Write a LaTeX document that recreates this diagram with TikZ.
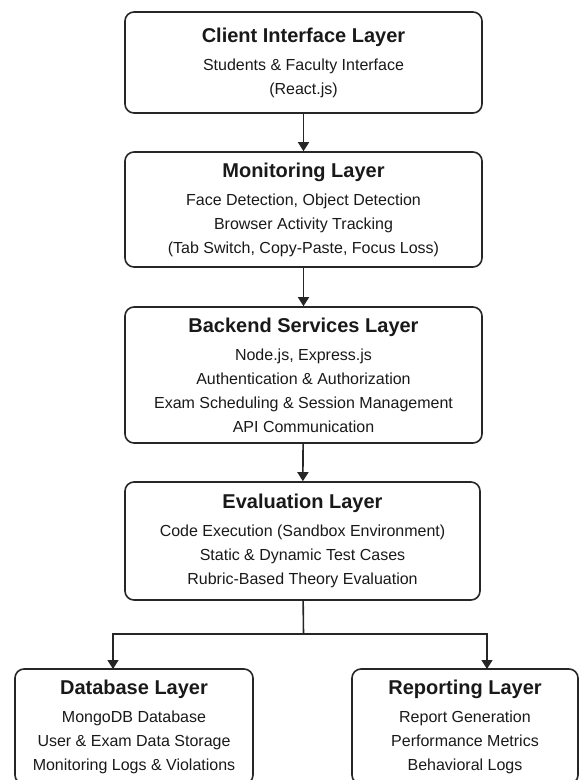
\documentclass[tikz,border=0pt]{standalone}
\usepackage{fontspec}
\setmainfont{Liberation Sans}
\usetikzlibrary{arrows.meta}

\tikzset{
  layer/.style={draw=black!85, line width=1.6pt, rounded corners=9pt,
    align=center, inner sep=0pt, text=black!90,
    font=\fontsize{16}{24}\selectfont},
  flow/.style={draw=black!85, line width=1.6pt,
    -{Triangle[length=9pt,width=11pt]}},
  link/.style={draw=black!85, line width=1.6pt}
}
\newcommand{\layertitle}[1]{{\fontsize{20}{24}\selectfont\bfseries #1}\\[4pt]}

\begin{document}
\begin{tikzpicture}[x=1pt,y=-1pt]
\useasboundingbox (0,0) rectangle (580,780);

% layers, top to bottom
\node[layer, minimum width=357pt, minimum height=101pt] (client) at (303.5,62.5)
  {\layertitle{Client Interface Layer}Students \& Faculty Interface\\(React.js)};
\node[layer, minimum width=357pt, minimum height=115pt] (monitor) at (303.5,209.5)
  {\layertitle{Monitoring Layer}Face Detection, Object Detection\\Browser Activity Tracking\\(Tab Switch, Copy-Paste, Focus Loss)};
\node[layer, minimum width=357pt, minimum height=136pt] (backend) at (303.5,375)
  {\layertitle{Backend Services Layer}Node.js, Express.js\\Authentication \& Authorization\\Exam Scheduling \& Session Management\\API Communication};
\node[layer, minimum width=355pt, minimum height=118pt] (eval) at (302.5,541)
  {\layertitle{Evaluation Layer}Code Execution (Sandbox Environment)\\Static \& Dynamic Test Cases\\Rubric-Based Theory Evaluation};

% the two outputs
\node[layer, minimum width=238pt, minimum height=115pt] (db) at (134,726.5)
  {\layertitle{Database Layer}MongoDB Database\\User \& Exam Data Storage\\Monitoring Logs \& Violations};
\node[layer, minimum width=226pt, minimum height=115pt] (report) at (465,726.5)
  {\layertitle{Reporting Layer}Report Generation\\Performance Metrics\\Behavioral Logs};

% arrows
\draw[flow] (client) -- (monitor);
\draw[flow] (monitor) -- (backend);
\draw[flow] (backend) -- (eval);

\coordinate (split) at (303.5,634);
\coordinate (dbin) at (113,669);
\coordinate (repin) at (487,669);
\draw[link] (eval) -- (split);
\draw[flow] (split) -| (dbin);
\draw[flow] (split) -| (repin);
\end{tikzpicture}
\end{document}
